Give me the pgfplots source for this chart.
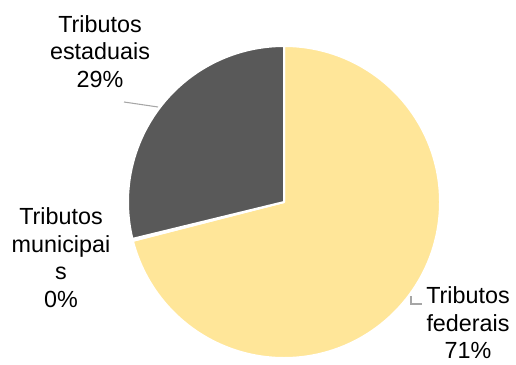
\documentclass[border=0pt]{standalone}
\usepackage{pgfplots}
\usepackage{pgfplotstable}
\pgfplotsset{compat=1.18}
\usepackage{fontspec}
\setmainfont{Liberation Sans}
\definecolor{fedcol}{HTML}{FFE699}
\definecolor{estcol}{HTML}{595959}
\definecolor{muncol}{HTML}{A5A5A5}
\definecolor{leadcol}{HTML}{A6A6A6}
\pgfplotstableread{
label value
federais 71
municipais 0.2
estaduais 28.8
}\piedata
\begin{document}
\begin{tikzpicture}
\pgfplotstablegetelem{0}{value}\of\piedata \let\vA\pgfplotsretval
\pgfplotstablegetelem{1}{value}\of\piedata \let\vB\pgfplotsretval
\pgfplotstablegetelem{2}{value}\of\piedata \let\vC\pgfplotsretval
\pgfmathsetmacro\aA{90-3.6*\vA}
\pgfmathsetmacro\aB{\aA-3.6*\vB}
\pgfmathsetmacro\aC{\aB-3.6*\vC}
\begin{axis}[hide axis, scale only axis, x=0.75pt, y=0.75pt,
  xmin=0, xmax=516, ymin=0, ymax=364, clip=false]
\filldraw[fill=fedcol, draw=white, line width=1.5pt, line join=round]
  (axis cs:284,162) -- ++(90:117pt) arc[start angle=90, end angle=\aA, radius=117pt] -- cycle;
\filldraw[fill=muncol, draw=white, line width=1.5pt, line join=round]
  (axis cs:284,162) -- ++(\aA:117pt) arc[start angle=\aA, end angle=\aB, radius=117pt] -- cycle;
\filldraw[fill=estcol, draw=white, line width=1.5pt, line join=round]
  (axis cs:284,162) -- ++(\aB:117pt) arc[start angle=\aB, end angle=\aC, radius=117pt] -- cycle;
\draw[leadcol, line width=0.8pt] (axis cs:124,262) -- (axis cs:158,257);
\draw[leadcol, line width=0.8pt] (axis cs:411,68) -- (axis cs:411,60) -- (axis cs:422,60);
\node[align=center, font=\fontsize{17.5}{20.6}\selectfont, inner sep=0pt] at (axis cs:100,312.5) {Tributos\\estaduais\\29\%};
\node[align=center, font=\fontsize{17.5}{20.6}\selectfont, inner sep=0pt] at (axis cs:61,106.5) {Tributos\\municipai\\s\\0\%};
\node[align=center, font=\fontsize{17.5}{20.6}\selectfont, inner sep=0pt] at (axis cs:468,41) {Tributos\\federais\\71\%};
\end{axis}
\pgfresetboundingbox
\useasboundingbox (0,0) rectangle (387pt,273pt);
\end{tikzpicture}
\end{document}
